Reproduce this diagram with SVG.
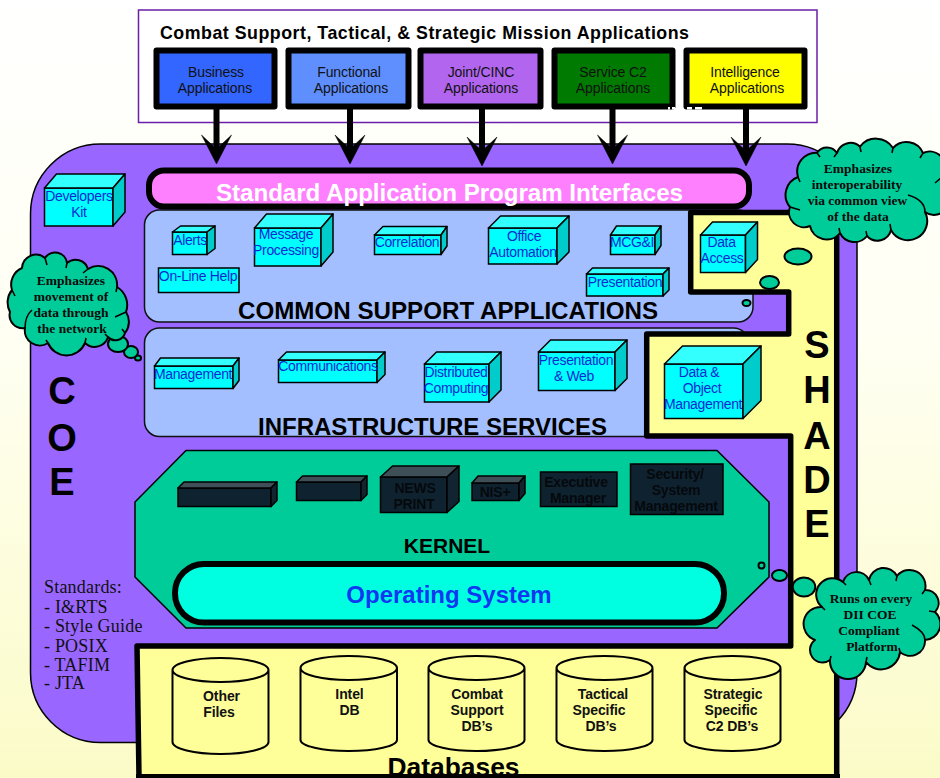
<svg xmlns="http://www.w3.org/2000/svg" width="940" height="778" viewBox="0 0 940 778">
<style>
text{font-family:"Liberation Sans",Arial,sans-serif;text-anchor:middle}
.b{font-weight:bold}
.fr{fill:#0ff;stroke:#000;stroke-width:1.5}
.tp{fill:#3ff;stroke:#000;stroke-width:1.5;stroke-linejoin:round}
.sd{fill:#0cc;stroke:#000;stroke-width:1.5;stroke-linejoin:round}
.dfr{fill:#0f2230;stroke:#000;stroke-width:1.5}
.dtp{fill:#3f4f57;stroke:#000;stroke-width:1.5;stroke-linejoin:round}
.dsd{fill:#12242f;stroke:#000;stroke-width:1.5;stroke-linejoin:round}
.cy{font-size:14px;fill:#0a2bd0;letter-spacing:-.35px}
.dk{font-size:14px;fill:#05090c;font-weight:bold;letter-spacing:-.2px}
.app{stroke:#000;stroke-width:6;stroke-linejoin:round}
.at{font-size:14px;fill:#111;letter-spacing:-.1px}
.db{fill:#ff9;stroke:#000;stroke-width:2}
.dbt{font-size:14px;font-weight:bold;fill:#111;letter-spacing:-.1px}
.cl{fill:#0c9;stroke:#000;stroke-width:2;stroke-linejoin:round}
.cli{fill:none;stroke:#000;stroke-width:1.6}
.ct{font-family:"Liberation Serif","Times New Roman",serif;font-weight:bold;font-size:13.5px;fill:#0a0a0a}
.big{font-size:38px;font-weight:bold;fill:#000}
.std{font-family:"Liberation Serif","Times New Roman",serif;font-size:18px;fill:#111;text-anchor:start;letter-spacing:.2px}
.arr{stroke:#000;stroke-width:6;fill:none;marker-end:url(#ah)}
</style>
<defs>
<linearGradient id="bg" x1="0" y1="0" x2="0" y2="1"><stop offset="0" stop-color="#fff"/><stop offset=".45" stop-color="#fffff2"/><stop offset="1" stop-color="#fbfbc8"/></linearGradient>
<marker id="ah" markerUnits="userSpaceOnUse" markerWidth="32" markerHeight="32" refX="14" refY="15" orient="auto" overflow="visible"><path d="M0 0L14 15L0 30L29 15Z" fill="#000" stroke="#000" stroke-width=".5"/></marker>
</defs>
<rect width="940" height="778" fill="url(#bg)"/>
<g id="coe">
<rect x="30.5" y="144" width="826.5" height="598.5" rx="70" ry="70" fill="#96f" stroke="#000" stroke-width="1.5"/>
<text class="big" x="62" y="404">C</text><text class="big" x="62" y="451">O</text><text class="big" x="62" y="495">E</text>
</g>
<g id="missions">
<rect x="138.5" y="10" width="678.5" height="112.5" fill="#fff" stroke="#6a1fa8" stroke-width="1.5"/>
<text class="b" x="424.5" y="39" font-size="17.8" fill="#000" textLength="529" lengthAdjust="spacing">Combat Support, Tactical, &amp; Strategic Mission Applications</text>
</g>
<g id="business"><rect class="app" x="156.5" y="50.5" width="118" height="56" fill="#36f"/><text class="at" x="216" y="77">Business</text><text class="at" x="215" y="93">Applications</text></g>
<g id="functional"><rect class="app" x="288.5" y="50.5" width="120" height="56" fill="#5f8fff"/><text class="at" x="349" y="77">Functional</text><text class="at" x="351" y="93">Applications</text></g>
<g id="joint"><rect class="app" x="420.5" y="50.5" width="120" height="56" fill="#b266f0"/><text class="at" x="481" y="77">Joint/CINC</text><text class="at" x="481" y="93">Applications</text></g>
<g id="service"><rect class="app" x="554.500" y="50.5" width="118" height="56" fill="#007a00"/><text class="at" x="613" y="77">Service C2</text><text class="at" x="613" y="93">Applications</text></g>
<g id="intel"><rect class="app" x="686.500" y="50.5" width="118" height="56" fill="#ff0"/><text class="at" x="745" y="77">Intelligence</text><text class="at" x="747" y="93">Applications</text></g>
<path id="white-marks" d="M668 107h2v2.500h-2zM672 107h3v2.500h-3zM687 107h5v2.500h-5zM695 107h7v2.500h-7z" fill="#fff"/>
<g id="connectors">
<line class="arr" x1="216.5" y1="108" x2="216.5" y2="149"/>
<line class="arr" x1="350" y1="108" x2="350" y2="149"/>
<line class="arr" x1="482" y1="108" x2="482" y2="151"/>
<line class="arr" x1="612.5" y1="108" x2="612.5" y2="149"/>
<line class="arr" x1="746" y1="108" x2="746" y2="151"/>
</g>
<g id="common-support"><rect x="144.5" y="210" width="608.5" height="112" rx="15" fill="#a3bfff" stroke="#111" stroke-width="1.5"/><text class="b" x="448" y="318.5" font-size="23.5" fill="#000" textLength="420" lengthAdjust="spacingAndGlyphs">COMMON SUPPORT APPLICATIONS</text></g>
<g id="infrastructure"><rect x="144.5" y="328" width="604" height="108.5" rx="15" fill="#a3bfff" stroke="#111" stroke-width="1.5"/><text class="b" x="432.5" y="434.5" font-size="23.5" fill="#000" textLength="349" lengthAdjust="spacingAndGlyphs">INFRASTRUCTURE SERVICES</text></g>
<g id="api"><rect x="149" y="170.5" width="600" height="36" rx="15" fill="#ff80ff" stroke="#000" stroke-width="6"/><text class="b" x="449.5" y="201" font-size="24.2" fill="#fff" textLength="467" lengthAdjust="spacing">Standard Application Program Interfaces</text></g>
<g id="shade">
<path d="M690.7 212.5H836.7V777H139L137 646H790.7V436H646.7V334H788.7V292H690.7Z" fill="#ff9" stroke="#000" stroke-width="5.5" stroke-linejoin="round"/>
<text class="big" x="817" y="358">S</text><text class="big" x="817" y="403">H</text><text class="big" x="817" y="449">A</text><text class="big" x="817" y="493">D</text><text class="big" x="817" y="537">E</text>
<text class="b" x="453.5" y="776" font-size="26.4" fill="#000">Databases</text>
<line x1="136" y1="776.500" x2="840" y2="776.500" stroke="#000" stroke-width="5"/>
</g>
<g id="developers-kit"><rect class="fr" x="44.5" y="188" width="68.5" height="38"/><polygon class="tp" points="44.5,188 56.5,174 125,174 113,188"/><polygon class="sd" points="113,188 125,174 125,212 113,226"/><text class="cy" x="79" y="201">Developers</text><text class="cy" x="79" y="217">Kit</text></g>
<g id="alerts"><rect class="fr" x="172.5" y="232" width="34.5" height="22.5"/><polygon class="tp" points="172.5,232 180.5,226 215,226 207,232"/><polygon class="sd" points="207,232 215,226 215,248.5 207,254.5"/><text class="cy" x="190" y="245">Alerts</text></g>
<g id="message"><rect class="fr" x="254.5" y="228" width="66.5" height="38"/><polygon class="tp" points="254.5,228 266.5,214 333,214 321,228"/><polygon class="sd" points="321,228 333,214 333,252 321,266"/><text class="cy" x="286" y="239">Message</text><text class="cy" x="286" y="255">Processing</text></g>
<g id="correlation"><rect class="fr" x="374.5" y="235" width="66.5" height="19.5"/><polygon class="tp" points="374.5,235 383,226.5 447,226.5 441,235"/><polygon class="sd" points="441,235 447,226.5 447,246 441,254.5"/><text class="cy" x="407" y="247">Correlation</text></g>
<g id="online-help"><rect class="fr" x="158.5" y="268" width="80.5" height="24.5"/><text class="cy" x="198" y="281">On-Line Help</text></g>
<g id="office"><rect class="fr" x="488.5" y="228" width="68.5" height="36"/><polygon class="tp" points="488.5,228 500.5,216 569,216 557,228"/><polygon class="sd" points="557,228 569,216 569,252 557,264"/><text class="cy" x="524" y="241">Office</text><text class="cy" x="523" y="257">Automation</text></g>
<g id="mcgi"><rect class="fr" x="610.5" y="235" width="44.5" height="19.5"/><polygon class="tp" points="610.5,235 616.5,226 661,226 655,235"/><polygon class="sd" points="655,235 661,226 661,245.5 655,254.5"/><text class="cy" x="632" y="247">MCG&amp;I</text></g>
<g id="presentation"><rect class="fr" x="586.5" y="274" width="76.5" height="22"/><polygon class="tp" points="586.5,274 592.5,268 669,268 663,274"/><polygon class="sd" points="663,274 669,268 669,290 663,296"/><text class="cy" x="625" y="287">Presentation</text></g>
<g id="data-access"><rect class="fr" x="700.5" y="235" width="45" height="37.5"/><polygon class="tp" points="700.5,235 712.5,222 757.5,222 745.5,235"/><polygon class="sd" points="745.5,235 757.5,222 757.5,259.5 745.5,272.5"/><text class="cy" x="721.5" y="247">Data</text><text class="cy" x="722" y="263">Access</text></g>
<g id="management"><rect class="fr" x="154.5" y="366" width="78.5" height="22.5"/><polygon class="tp" points="154.5,366 160.5,358 239,358 233,366"/><polygon class="sd" points="233,366 239,358 239,380.5 233,388.5"/><text class="cy" x="193" y="379">Management</text></g>
<g id="communications"><rect class="fr" x="278.5" y="360" width="98.5" height="22.5"/><polygon class="tp" points="278.5,360 286.5,352 385,352 377,360"/><polygon class="sd" points="377,360 385,352 385,374.5 377,382.5"/><text class="cy" x="328" y="371">Communications</text></g>
<g id="distributed"><rect class="fr" x="424.5" y="364" width="64.5" height="38"/><polygon class="tp" points="424.5,364 436.5,352 501,352 489,364"/><polygon class="sd" points="489,364 501,352 501,390 489,402"/><text class="cy" x="456" y="377">Distributed</text><text class="cy" x="456" y="393">Computing</text></g>
<g id="presentation-web"><rect class="fr" x="538.5" y="352" width="76.5" height="38.5"/><polygon class="tp" points="538.5,352 550.5,340 627,340 615,352"/><polygon class="sd" points="615,352 627,340 627,378.5 615,390.5"/><text class="cy" x="576" y="365">Presentation</text><text class="cy" x="574" y="381">&amp; Web</text></g>
<g id="data-object"><rect class="fr" x="664.5" y="364" width="78.5" height="54.5"/><polygon class="tp" points="664.5,364 682.5,346 761,346 743,364"/><polygon class="sd" points="743,364 761,346 761,400.5 743,418.5"/><text class="cy" x="699" y="377">Data &amp;</text><text class="cy" x="702" y="393">Object</text><text class="cy" x="703" y="409">Management</text></g>
<g id="kernel">
<polygon points="186,450.5 717,450.5 769,502 769,577 717,628 186,628 135,577 135,502" fill="#0c9" stroke="#000" stroke-width="1.5"/>
<text class="b" x="447" y="553" font-size="21" fill="#000">KERNEL</text>
</g>
<g id="box1"><rect class="dfr" x="178" y="488" width="93" height="18.5"/><polygon class="dtp" points="178,488 184,482 277,482 271,488"/><polygon class="dsd" points="271,488 277,482 277,500.5 271,506.5"/></g>
<g id="box2"><rect class="dfr" x="296.5" y="482" width="64.5" height="18.5"/><polygon class="dtp" points="296.5,482 302.5,476 367,476 361,482"/><polygon class="dsd" points="361,482 367,476 367,494.5 361,500.5"/></g>
<g id="newsprint"><rect class="dfr" x="380.5" y="477" width="66.5" height="35.5"/><polygon class="dtp" points="380.5,477 392.5,466 459,466 447,477"/><polygon class="dsd" points="447,477 459,466 459,501.5 447,512.5"/><text class="dk" x="415" y="493">NEWS</text><text class="dk" x="414" y="509">PRINT</text></g>
<g id="nis"><rect class="dfr" x="472" y="483" width="47" height="17.5"/><polygon class="dtp" points="472,483 478,476 525,476 519,483"/><polygon class="dsd" points="519,483 525,476 525,493.5 519,500.5"/><text class="dk" x="495" y="497">NIS+</text></g>
<g id="executive"><rect class="dfr" x="540.5" y="472" width="76.5" height="34.5"/><text class="dk" x="576" y="487">Executive</text><text class="dk" x="578" y="503">Manager</text></g>
<g id="security"><rect class="dfr" x="630.5" y="464" width="92.5" height="50.5"/><text class="dk" x="675" y="479">Security/</text><text class="dk" x="676" y="495">System</text><text class="dk" x="676" y="511">Management</text></g>
<g id="os"><rect x="175" y="564" width="549" height="58.5" rx="29" fill="#00ffe0" stroke="#000" stroke-width="6"/><text class="b" x="449" y="603" font-size="24" fill="#1038f0">Operating System</text></g>
<g id="standards">
<text class="std" x="44" y="593">Standards:</text><text class="std" x="44" y="613">- I&amp;RTS</text><text class="std" x="44" y="632">- Style Guide</text><text class="std" x="44" y="652">- POSIX</text><text class="std" x="44" y="671">- TAFIM</text><text class="std" x="44" y="689">- JTA</text>
</g>
<g id="other-files"><path class="db" d="M172.5 670V742A48 12 0 0 0 268.5 742V670A48 12 0 0 0 172.5 670A48 12 0 0 0 268.5 670"/><text class="dbt" x="221.5" y="701">Other</text><text class="dbt" x="219" y="717">Files</text></g>
<g id="intel-db"><path class="db" d="M300.5 668V740A48.250 11 0 0 0 397 740V668A48.250 12 0 0 0 300.500 668A48.250 12 0 0 0 397 668"/><text class="dbt" x="349.500" y="699">Intel</text><text class="dbt" x="349.500" y="715">DB</text></g>
<g id="combat-db"><path class="db" d="M428.500 668V740A48 11 0 0 0 524.500 740V668A48 12 0 0 0 428.500 668A48 12 0 0 0 524.500 668"/><text class="dbt" x="477" y="699">Combat</text><text class="dbt" x="477" y="715">Support</text><text class="dbt" x="477" y="731">DB’s</text></g>
<g id="tactical-db"><path class="db" d="M556.500 668V740A48 11 0 0 0 652.500 740V668A48 12 0 0 0 556.500 668A48 12 0 0 0 652.500 668"/><text class="dbt" x="603" y="699">Tactical</text><text class="dbt" x="599" y="715">Specific</text><text class="dbt" x="601" y="731">DB’s</text></g>
<g id="strategic-db"><path class="db" d="M684.500 668V740A48 11 0 0 0 780.500 740V668A48 12 0 0 0 684.500 668A48 12 0 0 0 780.500 668"/><text class="dbt" x="733" y="699">Strategic</text><text class="dbt" x="731" y="715">Specific</text><text class="dbt" x="732" y="731">C2 DB’s</text></g>
<g id="cloud-movement">
<ellipse class="cl" cx="138" cy="358" rx="3" ry="2.500"/><ellipse class="cl" cx="131" cy="352" rx="7" ry="6"/><ellipse class="cl" cx="118" cy="344" rx="10" ry="8"/>
<path class="cl" d="M12 290A18 18 0 0 1 22 268A14 14 0 0 1 45 258A12 12 0 0 1 67 263A13 13 0 0 1 88 269A19 19 0 0 1 117 287A21 21 0 0 1 126 312A18 18 0 0 1 125 333A10 10 0 0 1 108 337A14 14 0 0 1 85 343A20 20 0 0 1 48 343A15 15 0 0 1 25 328A13 13 0 0 1 10 312A20 20 0 0 1 12 290Z"/>
<path class="cli" d="M12 290l3 6M45 258l2 7M67 263l-1 5M88 269l-5 4M117 287l-1 5M126 312l-11 5M125 333l-3-4M108 337l-3-3M85 343l1-5M48 343l-2-3M25 328Q25 316 32 310"/>
<text class="ct" x="71" y="285">Emphasizes</text><text class="ct" x="71" y="301">movement of</text><text class="ct" x="71" y="317">data through</text><text class="ct" x="72" y="333">the network</text>
</g>
<g id="cloud-interop">
<ellipse class="cl" cx="746.500" cy="303" rx="4" ry="3"/><ellipse class="cl" cx="769.500" cy="282.500" rx="9.500" ry="6.500"/><ellipse class="cl" cx="798" cy="256.500" rx="13.500" ry="8"/>
<path class="cl" d="M798 177A19 19 0 0 1 817 152.700A12 12 0 0 1 837 153A14 14 0 0 1 860 146.700A20 20 0 0 1 893 148A18 18 0 0 1 923 153A16 16 0 0 1 945 172A20 20 0 0 1 948 205A15 15 0 0 1 925 212A19 19 0 0 1 891 230A14 14 0 0 1 867 236A16 16 0 0 1 840 233A17 17 0 0 1 810 226A15 15 0 0 1 790 207A19 19 0 0 1 798 177Z"/>
<path class="cli" d="M798 177l2 5M817 153l3 4M837 153l-3 4M860 147l1 5M893 148l-1 5M923 153l-3 5M935 183l6-5M925 212Q925 200 908 195M891 230l-1-6M867 236l-1-5M840 233l-1-5M790 207l10 3"/>
<text class="ct" x="858" y="173">Emphasizes</text><text class="ct" x="857" y="189">interoperability</text><text class="ct" x="857.500" y="205">via common view</text><text class="ct" x="858" y="221">of the data</text>
</g>
<g id="cloud-platform">
<ellipse class="cl" cx="761.500" cy="565.500" rx="3" ry="3"/><ellipse class="cl" cx="779.500" cy="575.500" rx="7.500" ry="5.500"/><ellipse class="cl" cx="804" cy="587" rx="11.300" ry="9.500"/>
<path class="cl" d="M822 607A16 16 0 0 1 843 582A14 14 0 0 1 869 580A15 15 0 0 1 897 576A16 16 0 0 1 925 590A13 13 0 0 1 935 612A16 16 0 0 1 925 640A15 15 0 0 1 900 652A19 19 0 0 1 866 662A18 18 0 0 1 830 660A12 12 0 0 1 815 640A17 17 0 0 1 822 607Z"/>
<path class="cli" d="M822 607l3 3M843 582l3 3M869 580l2 5M897 576l-1 5M925 590l-3 4M935 612l-6-1M925 640Q925 632 912 625M900 652l-1-4M866 662l1-5M830 660l1-4"/>
<text class="ct" x="871" y="603">Runs on every</text><text class="ct" x="870" y="619">DII COE</text><text class="ct" x="869" y="635">Compliant</text><text class="ct" x="872" y="651">Platform</text>
</g>
</svg>
